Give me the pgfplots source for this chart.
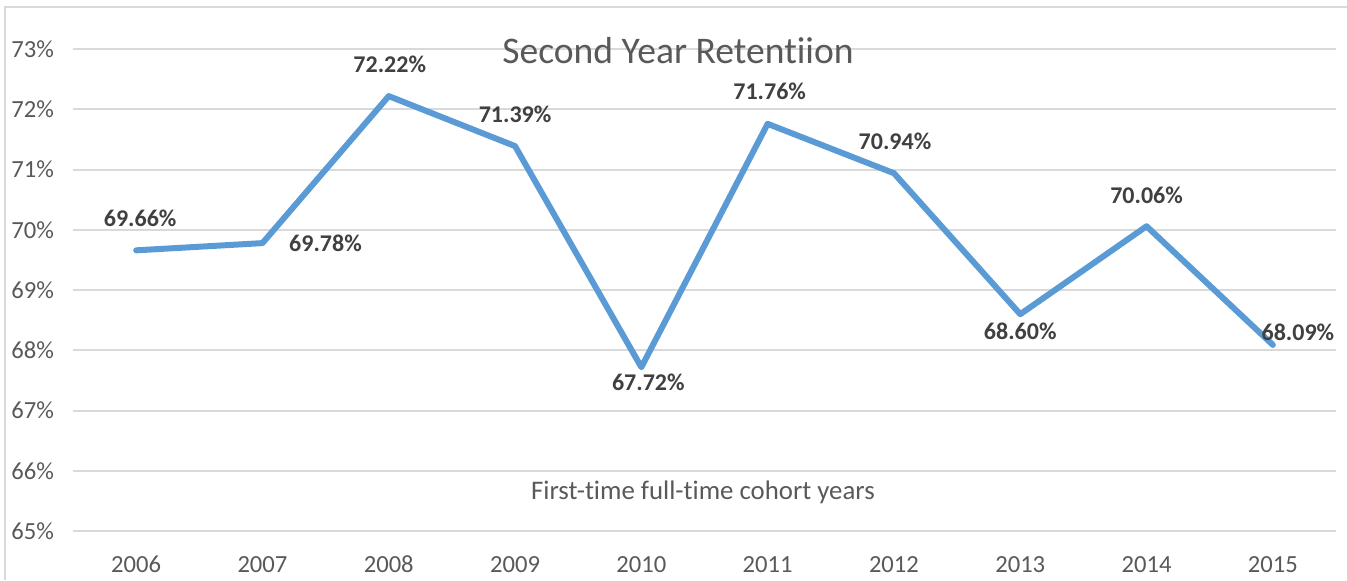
\documentclass[border=0pt]{standalone}
\usepackage{fontspec}
\setmainfont{Carlito}[Ligatures=NoCommon]
\usepackage{pgfplots}
\usepackage{pgfplotstable}
\pgfplotsset{compat=1.18}
\definecolor{lineblue}{HTML}{5B9BD5}
\definecolor{gridgray}{HTML}{D9D9D9}
\definecolor{ticktext}{HTML}{595959}
\definecolor{labeltext}{HTML}{404040}
\definecolor{leadergray}{HTML}{A6A6A6}

\pgfplotstableread{
x y dx dy
0 69.66 2 16
1 69.78 31.5 0
2 72.22 0.5 16
3 71.39 0 16
4 67.72 3.5 -7.5
5 71.76 1 16
6 70.94 0.5 16
7 68.60 0 -8.5
8 70.06 0 15.5
9 68.09 12.5 6.5
}\retention

\begin{document}
\begin{tikzpicture}
\useasboundingbox (0,0) rectangle (673.5pt,290pt);
\draw[color=gridgray, line width=0.8pt] (2.5pt,0) -- (2.5pt,286.5pt) -- (673.5pt,286.5pt);
\begin{axis}[
  at={(36.5pt,24.5pt)}, anchor=south west,
  scale only axis, width=631.5pt, height=241pt,
  xmin=-0.5, xmax=9.5, ymin=65, ymax=73,
  ytick={65,66,...,73},
  xtick={0,...,9},
  xticklabels={2006,2007,2008,2009,2010,2011,2012,2013,2014,2015},
  axis line style={draw=none},
  major tick length=0pt,
  ymajorgrids, grid style={gridgray, line width=1pt},
  /pgf/number format/assume math mode=true,
  yticklabel={\pgfmathprintnumber{\tick}\%},
  tick label style={font=\fontsize{12.3}{14}\selectfont, text=ticktext},
  yticklabel style={anchor=east, xshift=-6pt},
  xticklabel style={anchor=center, yshift=-16.5pt},
  title={Second Year Retentiion},
  title style={at={(axis description cs:0.479,1)}, anchor=center, yshift=-6.5pt, font=\fontsize{18.8}{22}\selectfont, text=ticktext},
  xlabel={First-time full-time cohort years},
  xlabel style={at={(axis description cs:0.4988,0.081)}, anchor=center, font=\fontsize{13.4}{16}\selectfont, text=ticktext},
  clip=false,
]
\draw[color=leadergray, line width=1pt] (axis cs:1,69.78) ++(1pt,0) -- ++(9pt,0);
\addplot[lineblue, line width=3pt, line join=round, line cap=round,
  point meta=explicit,
  visualization depends on={\thisrow{dx} \as \dx},
  visualization depends on={\thisrow{dy} \as \dy},
  nodes near coords={\pgfmathprintnumber[fixed,precision=2,fixed zerofill]{\pgfplotspointmeta}\%},
  nodes near coords style={anchor=center, xshift=\dx pt, yshift=\dy pt, font=\fontsize{12}{14}\selectfont\bfseries, text=labeltext},
] table[x=x, y=y, meta=y] {\retention};
\end{axis}
\end{tikzpicture}
\end{document}
